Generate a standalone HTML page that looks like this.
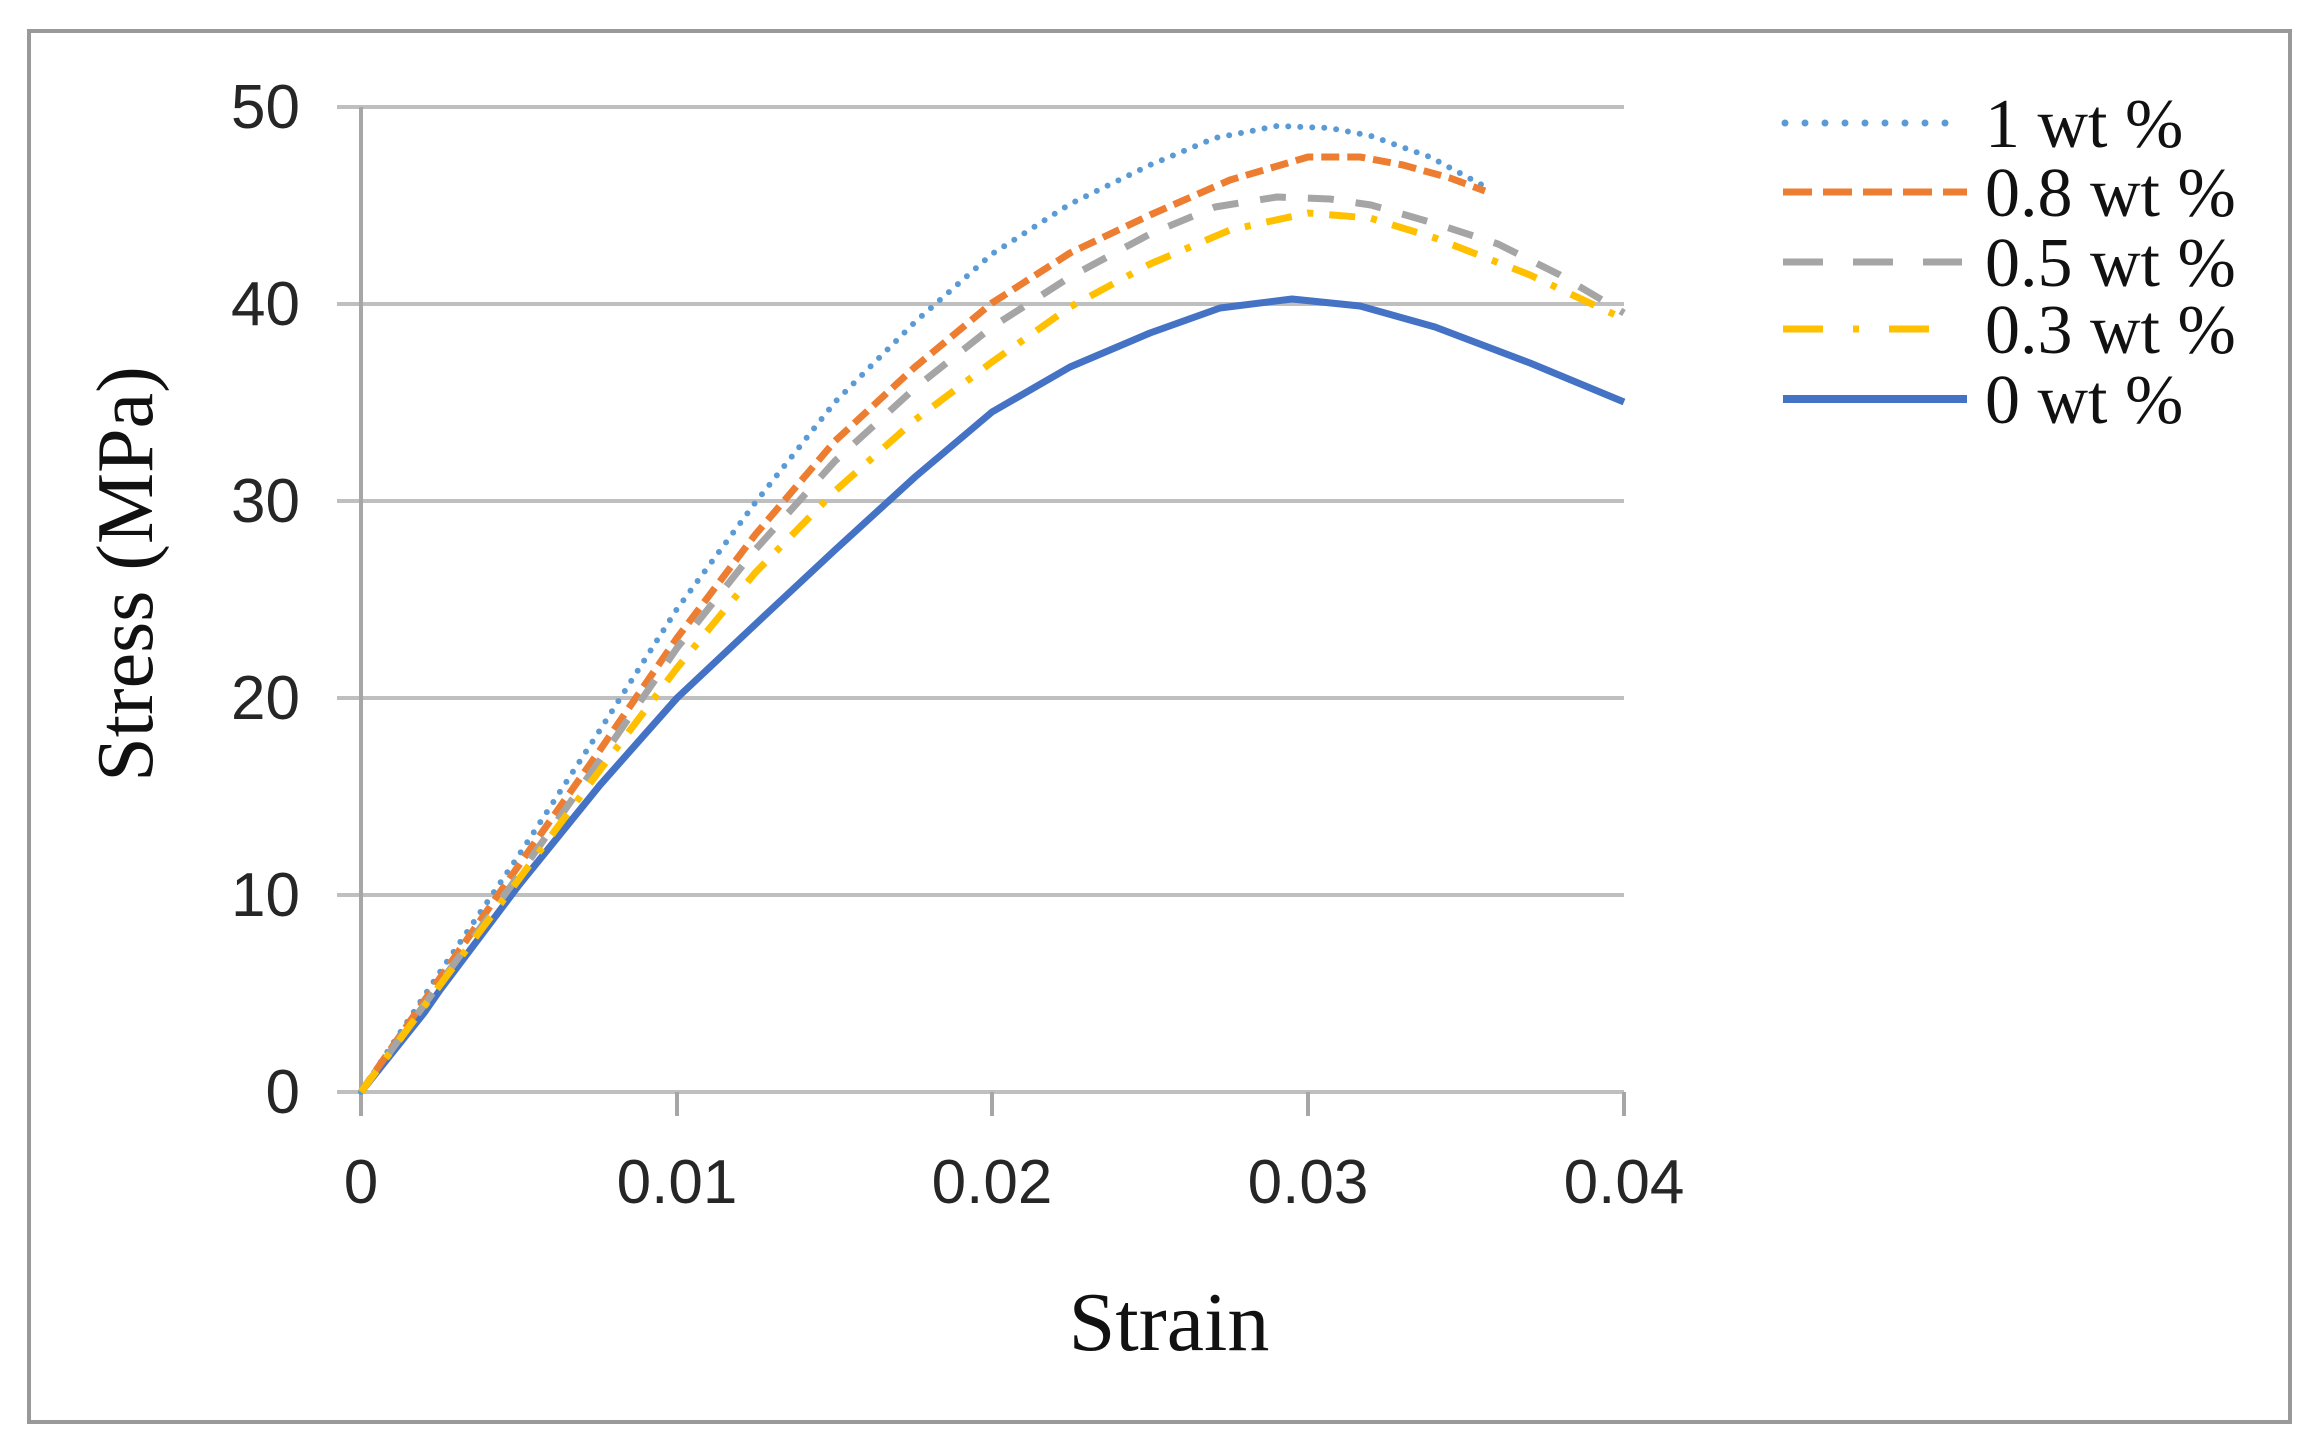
<!DOCTYPE html>
<html><head><meta charset="utf-8"><style>
html,body{margin:0;padding:0;background:#fff;}
svg{display:block;}
.t{font-family:"Liberation Sans",sans-serif;font-size:62px;fill:#262626;}
.s{font-family:"Liberation Serif",serif;fill:#111;}
</style></head><body>
<svg width="2315" height="1446" viewBox="0 0 2315 1446" xmlns="http://www.w3.org/2000/svg">
<rect x="29" y="31" width="2261" height="1391" fill="#fff" stroke="#999" stroke-width="4"/>
<g stroke="#bfbfbf" stroke-width="4">
<line x1="337" y1="107" x2="1624" y2="107"/>
<line x1="337" y1="304" x2="1624" y2="304"/>
<line x1="337" y1="501" x2="1624" y2="501"/>
<line x1="337" y1="698" x2="1624" y2="698"/>
<line x1="337" y1="895" x2="1624" y2="895"/>
<line x1="337" y1="1092" x2="1624" y2="1092"/>
</g>
<g stroke="#a6a6a6" stroke-width="4">
<line x1="361" y1="107" x2="361" y2="1116"/>
<line x1="677" y1="1092" x2="677" y2="1116"/>
<line x1="992" y1="1092" x2="992" y2="1116"/>
<line x1="1308" y1="1092" x2="1308" y2="1116"/>
<line x1="1624" y1="1092" x2="1624" y2="1116"/>
</g>
<g class="t" text-anchor="end">
<text x="300" y="128">50</text>
<text x="300" y="325">40</text>
<text x="300" y="522">30</text>
<text x="300" y="719">20</text>
<text x="300" y="916">10</text>
<text x="300" y="1113">0</text>
</g>
<g class="t" text-anchor="middle">
<text x="361" y="1203">0</text>
<text x="677" y="1203">0.01</text>
<text x="992" y="1203">0.02</text>
<text x="1308" y="1203">0.03</text>
<text x="1624" y="1203">0.04</text>
</g>
<text class="s" x="1169" y="1350" text-anchor="middle" font-size="84">Strain</text>
<text class="s" transform="translate(152,574) rotate(-90)" text-anchor="middle" font-size="80">Stress (MPa)</text>
<g fill="none" stroke-linejoin="round">
<polyline stroke="#4472c4" stroke-width="7" points="361,1092 424,1013 440,990 519,885 600,785 677,698 760,620 835,550 915,477 992,412 1070,367 1150,333 1220,308 1292,299 1360,306 1435,327 1530,363 1624,402"/>
<polyline stroke="#5b9bd5" stroke-width="6" stroke-linecap="round" stroke-dasharray="0 12" points="361,1092 440,972 519,855 600,730 677,609 755,503 835,402 915,322 992,254 1070,204 1150,165 1215,138 1277,126 1330,128 1371,136 1430,157 1482,185"/>
<polyline stroke="#ed7d31" stroke-width="7" stroke-dasharray="18 8" points="361,1092 440,978 519,865 600,750 677,638 755,535 835,441 915,367 992,303 1070,253 1150,215 1230,180 1308,157 1360,157 1403,165 1450,178 1485,191"/>
<polyline stroke="#a5a5a5" stroke-width="7" stroke-dasharray="26 22" points="361,1092 440,983 519,875 600,760 677,648 755,550 835,461 915,388 992,327 1070,277 1150,234 1215,207 1277,197 1330,199 1371,205 1440,225 1498,244 1560,275 1624,313"/>
<polyline stroke="#ffc000" stroke-width="7" stroke-dasharray="26 16 6 16" points="361,1092 440,985 519,879 600,770 677,668 755,573 835,491 915,420 992,362 1070,307 1150,264 1230,230 1308,213 1370,218 1435,238 1530,275 1624,319"/>
</g>
<g stroke-width="7" fill="none">
<line x1="1785" y1="123" x2="1960" y2="123" stroke="#5b9bd5" stroke-linecap="round" stroke-dasharray="0 20"/>
<line x1="1783" y1="192" x2="1967" y2="192" stroke="#ed7d31" stroke-dasharray="29 11"/>
<line x1="1783" y1="262" x2="1962" y2="262" stroke="#a5a5a5" stroke-dasharray="40 30"/>
<line x1="1783" y1="329" x2="1931" y2="329" stroke="#ffc000" stroke-dasharray="40 30 6 30"/>
<line x1="1783" y1="399" x2="1967" y2="399" stroke="#4472c4" stroke-width="8"/>
</g>
<g class="s" font-size="70">
<text x="1985" y="147">1 wt %</text>
<text x="1985" y="216">0.8 wt %</text>
<text x="1985" y="286">0.5 wt %</text>
<text x="1985" y="353">0.3 wt %</text>
<text x="1985" y="423">0 wt %</text>
</g>
</svg>
</body></html>
